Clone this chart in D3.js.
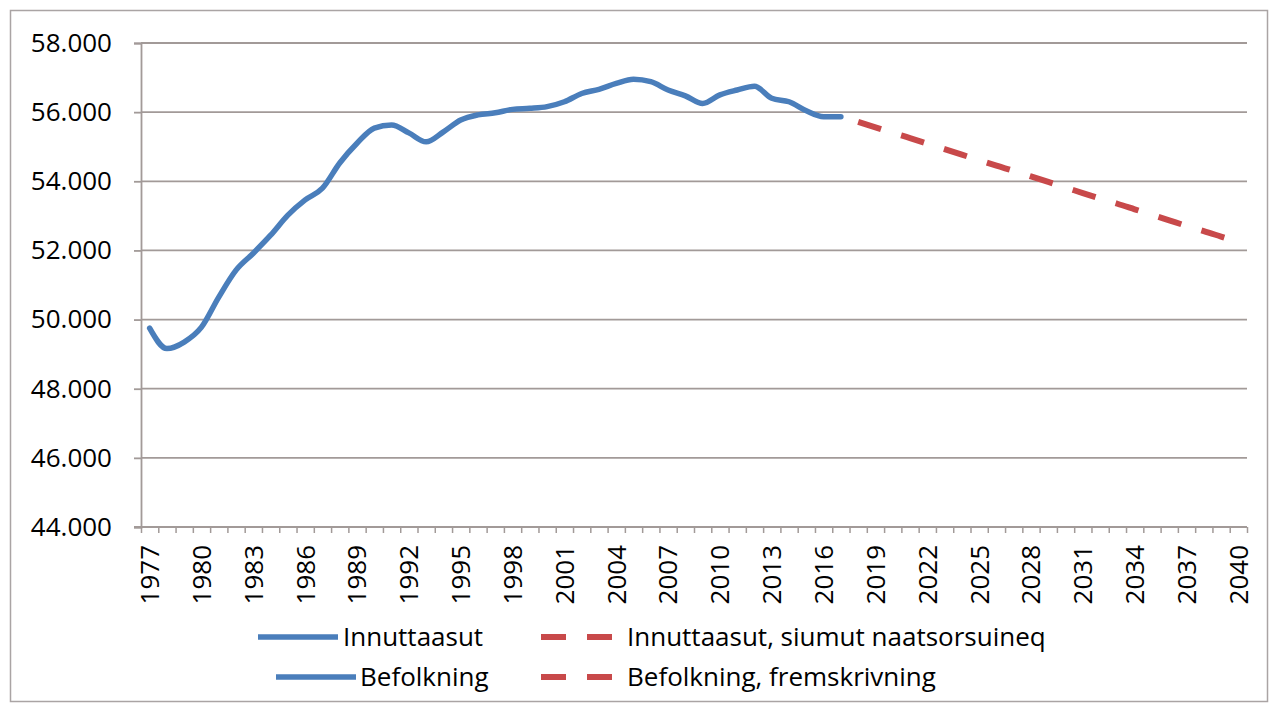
<!DOCTYPE html>
<html>
<head>
<meta charset="utf-8">
<script src="https://cdn.jsdelivr.net/npm/d3@7"></script>
<style>
  body { margin: 0; background: #fff; }
  svg text { font-family: 'Open Sans', sans-serif; fill: #000; }
</style>
</head>
<body>
<div id="chart"></div>
<script>
// years on the category axis
const years = d3.range(1977, 2041);
const labelYears = years.filter((y, i) => i % 3 === 0);
const yTicks = [44000, 46000, 48000, 50000, 52000, 54000, 56000, 58000];

// observed population 1977-2017
const histYears = d3.range(1977, 2018);
const histValues = [
  49750, 49160, 49350, 49780, 50650, 51430, 51920, 52440, 53020, 53460,
  53800, 54530, 55100, 55540, 55630, 55400, 55140, 55430, 55770, 55920,
  55980, 56080, 56110, 56160, 56300, 56540, 56660, 56830, 56950, 56880,
  56640, 56470, 56250, 56500, 56640, 56750, 56400, 56300, 56040, 55870,
  55870
];

// projection 2018-2040
const projYears = d3.range(2018, 2041);
const projValues = [
  55720, 55560, 55400, 55250, 55090, 54930, 54770, 54610, 54450, 54300,
  54140, 53980, 53820, 53660, 53500, 53350, 53190, 53030, 52870, 52710,
  52560, 52400, 52240
];

const legendItems = [
  { label: 'Innuttaasut', color: '#4a7ebb', dashed: false },
  { label: 'Innuttaasut, siumut naatsorsuineq', color: '#c8494a', dashed: true },
  { label: 'Befolkning', color: '#4a7ebb', dashed: false },
  { label: 'Befolkning, fremskrivning', color: '#c8494a', dashed: true }
];

const locale = d3.formatLocale({
  decimal: ',',
  thousands: '.',
  grouping: [3],
  currency: ['', '']
});
const fmt = locale.format(',d');

const width = 1277;
const height = 704;
const plot = { left: 141, right: 1247, top: 43, bottom: 527 };
const gridColor = '#a29a98';
const fontSize = 26;

const svg = d3.select('#chart')
  .append('svg')
  .attr('width', width)
  .attr('height', height);

// outer frame
svg.append('rect')
  .attr('x', 10.5)
  .attr('y', 10.5)
  .attr('width', 1257)
  .attr('height', 691)
  .attr('fill', '#fff')
  .attr('stroke', '#aaa4a4')
  .attr('stroke-width', 1.5);

const x = d3.scaleBand()
  .domain(years)
  .range([plot.left, plot.right])
  .padding(0);

const xEdges = d3.scaleLinear()
  .domain([0, years.length])
  .range([plot.left, plot.right]);

const y = d3.scaleLinear()
  .domain([44000, 58000])
  .range([plot.bottom, plot.top]);

const xc = yr => x(yr) + x.bandwidth() / 2;

// gridlines
svg.append('g')
  .attr('class', 'grid')
  .selectAll('line')
  .data(yTicks)
  .enter()
  .append('line')
  .attr('x1', plot.left)
  .attr('x2', plot.right)
  .attr('y1', d => y(d))
  .attr('y2', d => y(d))
  .attr('stroke', gridColor)
  .attr('stroke-width', 1.8);

// y axis
const yAxis = svg.append('g')
  .attr('transform', `translate(${plot.left},0)`)
  .call(d3.axisLeft(y)
    .tickValues(yTicks)
    .tickSize(7)
    .tickPadding(22)
    .tickFormat(fmt));

yAxis.select('.domain').attr('stroke', gridColor).attr('stroke-width', 1.8);
yAxis.selectAll('.tick line').attr('stroke', gridColor).attr('stroke-width', 1.8);
yAxis.selectAll('.tick text')
  .attr('font-size', fontSize)
  .attr('font-family', "'Open Sans', sans-serif")
  .attr('fill', '#000');

// category tick marks on boundaries
const xTickAxis = svg.append('g')
  .attr('transform', `translate(0,${plot.bottom})`)
  .call(d3.axisBottom(xEdges)
    .tickValues(d3.range(years.length + 1))
    .tickSize(6)
    .tickFormat(''));

xTickAxis.select('.domain').remove();
xTickAxis.selectAll('.tick line').attr('stroke', gridColor).attr('stroke-width', 1.5);

svg.append('line')
  .attr('x1', plot.left - 7)
  .attr('x2', plot.right)
  .attr('y1', plot.bottom)
  .attr('y2', plot.bottom)
  .attr('stroke', gridColor)
  .attr('stroke-width', 1.8);

// year labels
const xLabels = svg.append('g')
  .attr('transform', `translate(0,${plot.bottom})`)
  .call(d3.axisBottom(x)
    .tickValues(labelYears)
    .tickSize(0)
    .tickFormat(d => d));

xLabels.select('.domain').remove();
xLabels.selectAll('.tick text')
  .attr('font-size', fontSize)
  .attr('font-family', "'Open Sans', sans-serif")
  .attr('fill', '#000')
  .attr('text-anchor', 'end')
  .attr('transform', 'rotate(-90)')
  .attr('x', -18)
  .attr('y', 0)
  .attr('dy', '0.36em');

// lines
const line = d3.line()
  .x(d => xc(d[0]))
  .y(d => y(d[1]))
  .curve(d3.curveMonotoneX);

svg.append('path')
  .datum(histYears.map((yr, i) => [yr, histValues[i]]))
  .attr('d', line)
  .attr('fill', 'none')
  .attr('stroke', '#4a7ebb')
  .attr('stroke-width', 5.5)
  .attr('stroke-linejoin', 'round')
  .attr('stroke-linecap', 'round');

svg.append('path')
  .datum(projYears.map((yr, i) => [yr, projValues[i]]))
  .attr('d', line)
  .attr('fill', 'none')
  .attr('stroke', '#c8494a')
  .attr('stroke-width', 6)
  .attr('stroke-dasharray', '24,21');

// legend
const legendPos = [
  { sx: 258, tx: 343, y: 637 },
  { sx: 541, tx: 627, y: 637 },
  { sx: 276, tx: 360, y: 677 },
  { sx: 541, tx: 627, y: 677 }
];

const legend = svg.append('g').attr('class', 'legend');

legendItems.forEach((item, i) => {
  const p = legendPos[i];
  legend.append('line')
    .attr('x1', p.sx)
    .attr('x2', p.sx + (item.dashed ? 71 : 80))
    .attr('y1', p.y)
    .attr('y2', p.y)
    .attr('stroke', item.color)
    .attr('stroke-width', item.dashed ? 6 : 5.5)
    .attr('stroke-dasharray', item.dashed ? '25,21' : null);

  legend.append('text')
    .attr('x', p.tx)
    .attr('y', p.y)
    .attr('dy', '0.35em')
    .attr('font-size', fontSize)
    .text(item.label);
});
</script>
</body>
</html>
